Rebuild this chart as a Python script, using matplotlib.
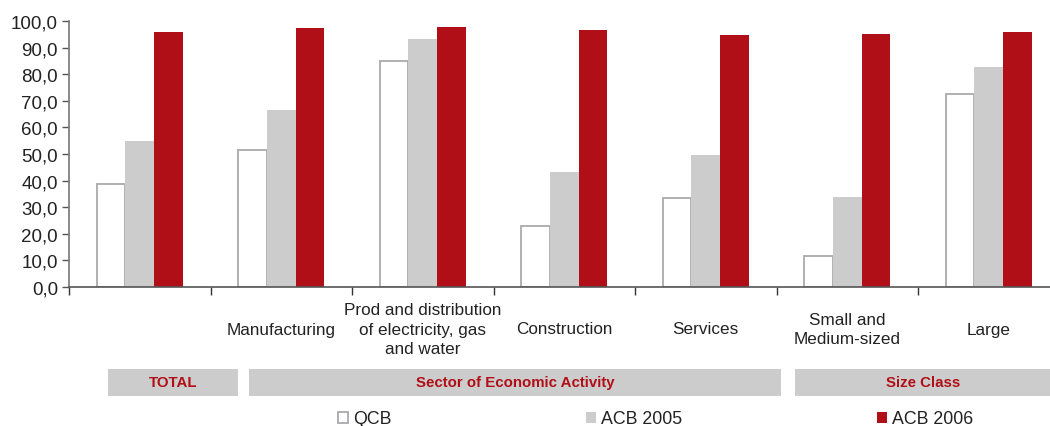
import numpy as np
import matplotlib
matplotlib.use("Agg")
import matplotlib.pyplot as plt
from matplotlib.patches import Rectangle
from matplotlib.ticker import FuncFormatter, FixedLocator

plt.rcParams['font.family'] = ['Liberation Sans', 'DejaVu Sans']

categories = ["", "Manufacturing", "Prod and distribution\nof electricity, gas\nand water",
              "Construction", "Services", "Small and\nMedium-sized", "Large"]
qcb = [38.6, 51.5, 85.0, 22.8, 33.3, 11.8, 72.4]
acb_2005 = [54.9, 66.5, 93.2, 43.2, 49.6, 33.8, 82.7]
acb_2006 = [95.9, 97.4, 97.7, 96.6, 94.7, 95.1, 95.9]
series_names = ["QCB", "ACB 2005", "ACB 2006"]
band_labels = ["TOTAL", "Sector of Economic Activity", "Size Class"]

RED = '#b00f17'
GREY = '#cccccc'
DARK = '#222222'

W, H = 1050, 427
fig = plt.figure(figsize=(W / 100, H / 100), dpi=100)
ax = fig.add_axes([69 / W, (H - 288) / H, 990.5 / W, 266 / H])

x = np.arange(len(categories))
bw = 0.203
b1 = ax.bar(x - bw, qcb, bw, color='white', edgecolor='#aaaaae', linewidth=1.3, label=series_names[0])
b2 = ax.bar(x, acb_2005, bw, color=GREY, linewidth=0, label=series_names[1])
b3 = ax.bar(x + bw, acb_2006, bw, color=RED, linewidth=0, label=series_names[2])

ax.set_xlim(-0.5, len(categories) - 0.5)
ax.set_ylim(0, 100)
ax.set_yticks(np.arange(0, 101, 10))
ax.yaxis.set_major_formatter(FuncFormatter(lambda v, p: f"{v:.1f}".replace('.', ',')))
ax.tick_params(axis='y', length=5, width=1, color='#555555', pad=3, labelsize=13.5, labelcolor=DARK)

ax.set_xticks([])
ax.xaxis.set_minor_locator(FixedLocator(np.arange(-0.5, len(categories), 1.0)))
ax.tick_params(axis='x', which='minor', length=6, width=1, color='#333333', direction='out')

for s in ['top', 'right']:
    ax.spines[s].set_visible(False)
ax.spines['left'].set_color('#777777')
ax.spines['bottom'].set_color('#555555')
ax.spines['left'].set_linewidth(1.2)
ax.spines['bottom'].set_linewidth(1.2)

trans = ax.get_xaxis_transform()
for xi, lab in zip(x, categories):
    ax.text(xi, (288 - 330) / 266, lab, transform=trans, ha='center', va='center',
            fontsize=12.3, color=DARK, linespacing=1.4, clip_on=False)

# grey bands under the categories
bands = [(108, 238), (249, 781), (795, 1052)]
for (x0, x1), lab in zip(bands, band_labels):
    fig.patches.append(Rectangle((x0 / W, (H - 397) / H), (x1 - x0) / W, 27 / H,
                                 transform=fig.transFigure, facecolor=GREY, edgecolor='none'))
    fig.text((x0 + x1) / 2 / W, (H - 383) / H, lab, ha='center', va='center',
             fontsize=10.8, fontweight='bold', color=RED)

leg = fig.legend(handles=[b1, b2, b3], labels=series_names, ncol=3, frameon=False,
                 loc='center left', bbox_to_anchor=(338 / W, (H - 420) / H),
                 fontsize=12.8, handlelength=0.55, handleheight=0.55, handletextpad=0.3,
                 columnspacing=10.95, borderpad=0, borderaxespad=0)
for t in leg.get_texts():
    t.set_color(DARK)

fig.savefig("out.png", dpi=100)
